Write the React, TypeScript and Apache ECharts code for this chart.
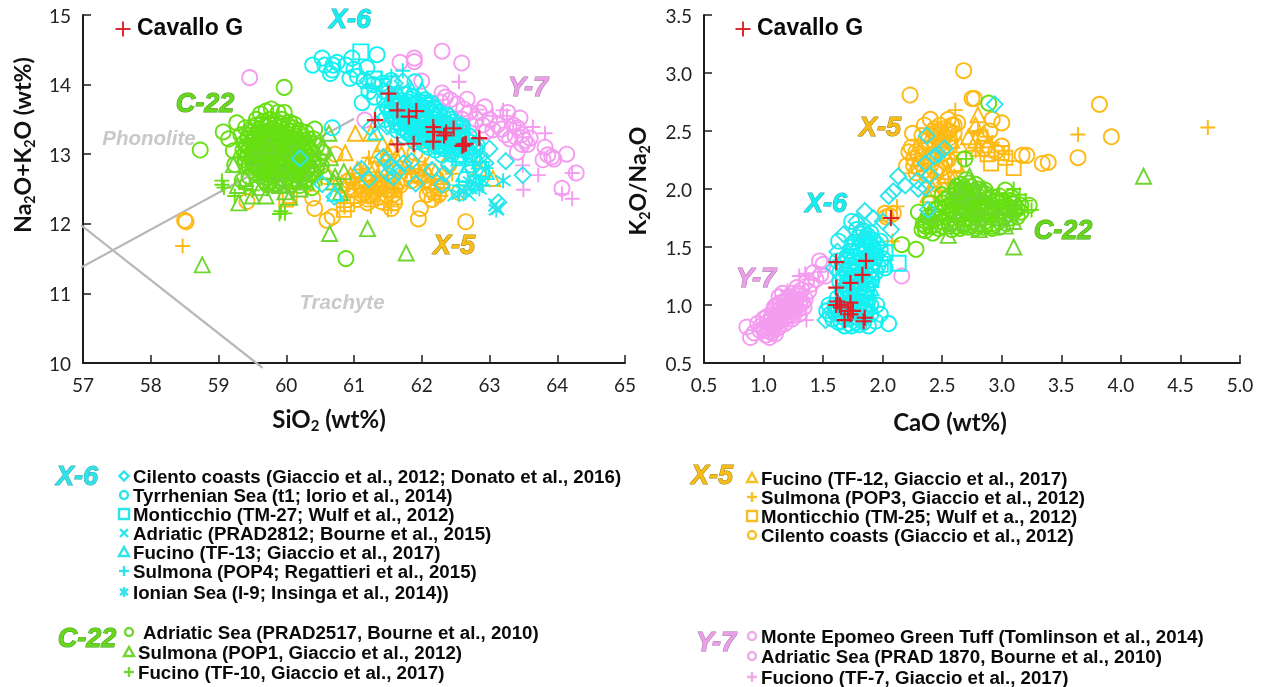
import React, { useEffect, useRef } from "react";
import * as echarts from "echarts";

type P = number[][];

// ---------- Left panel: SiO2 vs Na2O+K2O ----------
const L_CAVALLO: P = [[61.31,13.49],[61.51,13.87],[61.64,13.63],[61.81,13.54],[61.92,13.62],[61.64,13.14],[61.88,13.15],[62.17,13.39],[62.17,13.18],[62.18,13.32],[62.33,13.27],[62.36,13.31],[62.47,13.37],[62.62,13.14],[62.65,13.15],[62.6,13.12],[62.85,13.23]];
const L_Y7_CIRCLE: P = [[59.46,14.1],[62.3,14.48],[62.59,14.31],[61.68,14.32],[61.89,14.38],[61.89,14.33],[62.0,14.05],[61.16,13.49],[62.67,13.79],[62.93,13.68],[62.3,13.88],[62.35,13.82],[62.42,13.78],[62.28,13.75],[62.52,13.72],[62.7,13.6],[62.8,13.5],[62.9,13.42],[63.05,13.35],[63.27,13.6],[63.45,13.52],[63.23,13.28],[63.41,13.38],[63.41,13.03],[63.52,13.2],[63.6,13.23],[63.82,13.1],[63.79,12.92],[63.92,12.96],[63.95,12.93],[64.14,13.0],[64.28,12.73],[64.07,12.51],[63.12,13.42],[63.18,13.36],[63.35,13.42],[63.3,13.22],[63.48,13.14],[63.56,13.14],[62.95,13.32],[63.86,12.99],[61.93,13.72],[62.6,13.5],[62.72,13.42],[62.85,13.6],[62.62,13.65],[63.0,13.5],[63.38,13.25],[63.48,13.28]];
const L_Y7_PLUS: P = [[62.55,14.04],[63.2,13.63],[63.26,13.55],[63.64,13.39],[63.82,13.3],[63.49,12.84],[63.72,12.7],[63.5,12.49],[64.22,12.73],[64.07,12.43],[64.22,12.36],[63.05,13.55],[62.82,13.64],[63.4,13.35],[63.35,13.46]];
const L_X5_CIRCLE: P = [[58.5,12.05],[58.52,12.03],[59.42,12.32],[60.42,12.22],[60.6,12.05],[60.68,12.1],[60.39,12.37],[61.05,12.35],[61.2,12.3],[61.3,12.45],[61.4,12.32],[61.55,12.22],[61.6,12.3],[61.98,12.22],[61.95,12.07],[62.65,12.03],[62.15,12.35],[62.25,12.42],[62.12,12.5],[62.3,12.55],[62.55,12.45],[61.15,12.45],[61.5,12.5],[61.75,12.65],[60.8,12.55],[61.0,12.5],[60.72,13.0],[60.58,12.68],[61.9,13.02],[62.0,13.0],[62.4,12.85],[61.1,12.55],[61.25,12.52],[61.38,12.5],[61.48,12.42],[61.22,12.4],[61.35,12.38],[61.58,12.42],[61.12,12.42],[62.18,12.45],[62.22,12.52],[62.08,12.42],[61.85,12.62],[61.95,12.68],[62.05,12.62],[61.8,12.72],[61.68,12.55],[61.05,12.62],[60.92,12.62]];
const L_X5_TRIANGLE: P = [[61.02,13.3],[61.25,13.3],[60.87,13.02],[61.42,13.15],[61.55,13.1],[61.7,13.0],[61.2,12.85],[61.3,12.8],[61.45,12.95],[61.9,12.85],[62.05,12.8],[62.2,12.75],[63.05,12.65],[62.85,12.8],[60.95,12.7],[61.1,12.6],[61.28,12.55],[61.42,12.6],[61.62,12.62],[61.85,12.72],[62.12,12.6],[62.3,12.62],[61.98,12.7],[60.82,12.58],[60.96,12.5],[61.35,12.65],[61.5,12.55],[61.55,12.75],[61.4,12.78],[61.75,12.82],[62.1,12.72],[62.25,12.68],[61.18,12.72],[61.05,12.78],[61.34,13.0],[61.5,13.02],[61.62,12.95]];
const L_X5_PLUS: P = [[58.47,11.68],[60.86,12.24],[61.25,12.25],[61.5,12.2],[61.55,12.25],[62.2,12.35],[62.28,12.4],[61.0,12.55],[61.22,12.95],[61.1,12.78],[61.62,12.5],[61.78,12.75],[62.05,12.85],[62.45,12.72],[60.85,12.3],[61.2,12.5],[61.32,12.62],[61.45,12.48],[61.08,12.66],[61.95,12.78]];
const L_X5_SQUARE: P = [[60.85,12.2],[60.9,12.28],[61.28,12.42],[61.45,12.38],[61.55,12.48],[61.6,12.38],[60.0,12.35],[60.05,12.4],[62.1,12.6],[61.0,12.4],[61.35,12.55],[61.5,12.6]];
const L_C22_CIRCLE: P = [[59.97,13.96],[58.73,13.06],[60.88,11.5],[59.07,13.32],[59.15,13.22],[59.27,13.45],[59.33,13.28],[59.22,13.05],[59.24,12.85],[59.4,13.38],[59.62,13.58],[59.7,13.62],[59.78,13.65],[59.88,13.6],[59.97,13.6],[59.56,13.5],[59.66,13.47],[59.76,13.5],[59.84,13.48],[59.94,13.5],[60.05,13.46],[59.5,13.38],[59.6,13.36],[59.7,13.39],[59.8,13.37],[59.9,13.38],[60.0,13.36],[60.1,13.38],[60.2,13.34],[60.42,13.36],[59.44,13.27],[59.54,13.26],[59.64,13.29],[59.74,13.27],[59.84,13.28],[59.94,13.26],[60.04,13.28],[60.14,13.26],[60.24,13.25],[60.4,13.22],[59.38,13.16],[59.48,13.18],[59.58,13.17],[59.68,13.18],[59.78,13.16],[59.88,13.18],[59.98,13.16],[60.08,13.17],[60.18,13.15],[60.28,13.16],[60.45,13.12],[59.36,13.06],[59.46,13.08],[59.56,13.06],[59.66,13.08],[59.76,13.06],[59.86,13.08],[59.96,13.06],[60.06,13.07],[60.16,13.05],[60.26,13.07],[60.36,13.05],[60.55,13.02],[59.34,12.96],[59.44,12.98],[59.54,12.96],[59.64,12.98],[59.74,12.96],[59.84,12.98],[59.94,12.96],[60.04,12.97],[60.14,12.95],[60.24,12.97],[60.34,12.95],[60.48,12.92],[59.4,12.87],[59.5,12.88],[59.6,12.86],[59.7,12.88],[59.8,12.86],[59.9,12.88],[60.0,12.86],[60.1,12.87],[60.2,12.85],[60.3,12.87],[60.4,12.85],[60.52,12.83],[59.5,12.77],[59.6,12.78],[59.7,12.76],[59.8,12.78],[59.9,12.76],[60.0,12.77],[60.1,12.75],[60.2,12.77],[60.3,12.76],[60.4,12.74],[59.62,12.68],[59.72,12.66],[59.82,12.68],[59.92,12.66],[60.02,12.67],[60.12,12.65],[60.22,12.67],[60.32,12.65],[59.72,12.56],[59.84,12.58],[59.96,12.56],[60.08,12.57],[60.2,12.55],[60.38,12.52],[59.45,12.68],[59.35,12.62],[60.0,13.18],[60.12,13.08],[59.72,13.1],[59.82,13.02],[59.92,13.12],[59.62,13.02],[59.78,12.92],[59.92,12.82],[60.06,13.0],[60.18,12.9],[59.6,12.92],[59.7,12.82]];
const L_C22_CORE: P = [[59.55,13.42],[59.64,13.43],[59.73,13.44],[59.83,13.42],[59.92,13.44],[60.02,13.42],[60.12,13.43],[59.49,13.32],[59.59,13.31],[59.69,13.33],[59.79,13.31],[59.89,13.33],[59.99,13.31],[60.09,13.33],[60.19,13.3],[60.29,13.31],[59.43,13.22],[59.53,13.21],[59.63,13.23],[59.73,13.22],[59.83,13.23],[59.93,13.21],[60.03,13.22],[60.13,13.21],[60.23,13.2],[60.33,13.22],[59.42,13.12],[59.52,13.13],[59.62,13.12],[59.72,13.14],[59.82,13.12],[59.92,13.14],[60.02,13.12],[60.12,13.13],[60.22,13.11],[60.32,13.12],[59.4,13.02],[59.5,13.03],[59.6,13.04],[59.7,13.02],[59.8,13.04],[59.9,13.02],[60.0,13.03],[60.1,13.01],[60.2,13.02],[60.3,13.01],[60.4,13.0],[59.39,12.92],[59.49,12.93],[59.59,12.92],[59.69,12.94],[59.79,12.92],[59.89,12.94],[59.99,12.92],[60.09,12.93],[60.19,12.92],[60.29,12.92],[60.39,12.91],[59.45,12.83],[59.55,12.82],[59.65,12.83],[59.75,12.82],[59.85,12.84],[59.95,12.82],[60.05,12.83],[60.15,12.81],[60.25,12.82],[60.35,12.81],[60.45,12.8],[59.55,12.72],[59.65,12.73],[59.75,12.72],[59.85,12.74],[59.95,12.72],[60.05,12.73],[60.15,12.71],[60.25,12.72],[60.35,12.71],[59.68,12.62],[59.78,12.62],[59.88,12.62],[59.98,12.63],[60.08,12.62],[60.18,12.61],[60.28,12.62]];
const L_C22_TRIANGLE: P = [[58.76,11.41],[59.3,12.3],[60.64,11.86],[61.2,11.93],[61.77,11.58],[60.63,13.3],[59.22,12.85],[59.28,12.55],[59.5,12.4],[59.7,12.4],[59.82,12.58],[60.05,12.38],[60.2,12.5],[59.4,12.65],[59.62,12.52],[60.55,13.1],[60.65,12.95],[60.72,12.68],[60.8,12.45],[60.85,12.75],[60.7,12.6],[60.42,12.8],[60.3,12.6],[59.95,12.75],[59.55,12.95],[59.75,13.12],[60.1,13.05],[59.9,12.55],[60.58,12.75],[59.98,12.46]];
const L_C22_PLUS: P = [[59.05,12.62],[59.08,12.52],[59.05,12.56],[59.24,12.4],[59.5,12.48],[59.9,12.14],[59.98,12.15],[59.92,12.18],[59.72,12.5],[60.15,12.62],[60.3,12.52],[60.52,12.65],[59.4,12.5],[59.85,12.68],[60.05,12.85],[59.7,12.9],[60.25,12.95]];
const L_X6_CIRCLE: P = [[60.39,14.28],[60.53,14.38],[60.57,14.28],[60.68,14.21],[60.69,14.28],[60.75,14.32],[60.97,14.38],[61.34,14.43],[61.19,14.24],[60.94,14.09],[61.12,13.74],[61.9,14.04],[60.68,13.38],[60.65,14.16],[60.88,14.28],[61.0,14.22],[61.05,14.12],[61.15,14.06],[61.28,14.0],[61.42,14.02],[61.55,14.06],[61.22,13.9],[61.3,13.82],[61.45,13.9],
[61.5,13.88],[61.62,13.84],[61.75,13.86],[61.88,13.82],[61.45,13.78],[61.58,13.8],[61.7,13.77],[61.83,13.79],[61.96,13.76],[62.05,13.78],[61.48,13.7],[61.6,13.72],[61.74,13.69],[61.86,13.71],[61.98,13.68],[62.1,13.7],[62.18,13.67],[61.55,13.62],[61.66,13.64],[61.78,13.61],[61.9,13.63],[62.02,13.6],[62.14,13.62],[62.26,13.6],[61.6,13.54],[61.72,13.56],[61.84,13.53],[61.95,13.55],[62.08,13.52],[62.2,13.54],[62.32,13.52],[61.62,13.46],[61.76,13.48],[61.88,13.45],[62.0,13.47],[62.12,13.44],[62.24,13.46],[62.36,13.44],[62.46,13.46],[61.7,13.38],[61.82,13.4],[61.94,13.37],[62.06,13.39],[62.18,13.36],[62.3,13.38],[62.42,13.36],[62.54,13.38],[61.8,13.3],[61.92,13.32],[62.04,13.29],[62.16,13.31],[62.28,13.28],[62.4,13.3],[62.52,13.28],[61.94,13.22],[62.06,13.24],[62.18,13.21],[62.3,13.23],[62.42,13.2],[62.54,13.22],[62.66,13.2],[62.04,13.14],[62.16,13.16],[62.28,13.13],[62.4,13.15],[62.52,13.12],[62.64,13.14],[62.76,13.12],[62.2,13.06],[62.32,13.08],[62.44,13.05],[62.56,13.07],[62.68,13.05],[62.8,13.07],[62.3,12.99],[62.44,13.0],[62.58,12.98],[62.7,13.0]];
const L_X6_CORE: P = [[61.56,13.76],[61.68,13.73],[61.8,13.75],[61.92,13.73],[62.04,13.74],[62.14,13.73],[61.5,13.66],[61.62,13.68],[61.72,13.66],[61.84,13.67],[61.96,13.65],[62.08,13.66],[62.2,13.65],[61.42,13.6],[61.54,13.58],[61.66,13.6],[61.78,13.57],[61.9,13.59],[62.02,13.56],[62.14,13.58],[62.26,13.56],[62.38,13.56],[61.46,13.5],[61.58,13.52],[61.7,13.5],[61.82,13.5],[61.94,13.51],[62.06,13.48],[62.18,13.5],[62.3,13.48],[62.42,13.5],[61.56,13.42],[61.68,13.44],[61.8,13.43],[61.92,13.42],[62.04,13.43],[62.16,13.41],[62.28,13.42],[62.4,13.4],[62.5,13.42],[62.6,13.4],[61.64,13.34],[61.76,13.35],[61.88,13.34],[62.0,13.34],[62.12,13.33],[62.24,13.34],[62.36,13.33],[62.48,13.34],[62.6,13.32],[61.74,13.26],[61.86,13.27],[61.98,13.26],[62.1,13.27],[62.22,13.25],[62.34,13.26],[62.46,13.24],[62.58,13.26],[62.7,13.26],[61.9,13.18],[62.0,13.19],[62.12,13.2],[62.24,13.18],[62.36,13.18],[62.48,13.17],[62.6,13.18],[62.72,13.17],[62.1,13.1],[62.22,13.11],[62.34,13.12],[62.46,13.1],[62.58,13.11],[62.7,13.1],[62.82,13.12]];
const L_X6_DIAMOND: P = [[63.24,12.9],[63.49,12.7],[63.13,12.31],[60.2,12.94],[60.53,12.57],[60.71,12.39],[61.11,12.79],[61.22,12.64],[61.43,12.96],[61.55,12.82],[61.58,12.67],[61.73,12.87],[61.91,12.58],[62.15,12.77],[62.33,12.72],[62.3,12.56],[62.58,13.42],[61.49,13.4],[61.24,13.38],[63.0,13.08],[62.94,12.87],[61.48,12.9],[61.65,12.75],[61.5,12.72],[61.85,12.9],[62.85,12.95],[62.75,12.8],[62.4,12.85],[61.2,14.05],[61.6,14.02],[61.72,14.05],[62.42,13.55]];
const L_X6_SQUARE: P = [[61.1,14.47],[62.75,12.95],[62.88,12.78],[62.55,13.0],[61.3,14.08]];
const L_X6_TRIANGLE: P = [[61.32,13.32],[62.62,12.72],[62.8,12.6],[62.95,12.75],[62.7,12.85],[62.85,12.9],[61.65,13.9],[61.85,13.92],[62.0,13.92],[60.72,12.44],[62.55,12.95]];
const L_X6_PLUS: P = [[61.72,14.2],[61.55,14.12],[61.4,14.08],[61.2,13.95],[62.55,12.55],[62.68,12.6],[62.8,12.68],[62.9,12.55],[62.95,12.8]];
const L_X6_CROSS: P = [[62.48,12.42],[62.6,12.48],[62.7,12.42],[62.72,12.52],[62.8,12.55],[63.12,12.22],[63.08,12.27],[62.92,12.62]];
const L_X6_STAR: P = [[63.2,12.62],[62.55,12.42],[62.62,12.46],[62.72,12.6],[63.1,12.2],[62.85,12.5]];

// ---------- Right panel: CaO vs K2O/Na2O ----------
const R_CAVALLO: P = [[1.61,1.37],[1.86,1.38],[1.83,1.26],[1.73,1.19],[1.61,1.15],[2.07,1.75],[1.61,1.0],[1.64,1.0],[1.62,1.03],[1.73,1.02],[1.71,0.95],[1.75,0.95],[1.73,0.92],[1.68,0.87],[1.85,0.89],[1.84,0.86],[1.65,0.98]];
const R_Y7_CIRCLE: P = [[0.86,0.81],[0.89,0.72],[0.95,0.84],[0.97,0.78],[1.02,0.74],[1.05,0.72],[1.07,0.76],[1.0,0.8],[1.03,0.85],[1.08,0.82],[1.12,0.8],[1.06,0.88],[1.1,0.9],[1.14,0.86],[1.18,0.84],[1.12,0.95],[1.16,0.93],[1.2,0.9],[1.24,0.88],[1.14,1.02],[1.18,0.99],[1.22,0.96],[1.26,0.94],[1.3,0.92],[1.13,1.07],[1.2,1.05],[1.25,1.02],[1.3,1.0],[1.34,0.98],[1.24,1.1],[1.3,1.08],[1.32,1.13],[1.38,1.12],[1.4,1.18],[1.36,1.2],[1.44,1.22],[1.48,1.26],[1.42,1.28],[1.47,1.38],[1.5,1.35],[1.52,1.25],[2.16,1.25],[1.0,0.88],[1.08,0.95],[0.92,0.76],[1.1,0.75],[1.16,1.1],[1.35,1.05],[1.28,1.15]];
const R_Y7_CORE: P = [[1.01,0.78],[1.04,0.81],[1.06,0.83],[1.09,0.86],[1.11,0.84],[1.13,0.89],[1.15,0.91],[1.17,0.88],[1.19,0.94],[1.21,0.92],[1.23,0.98],[1.25,0.91],[1.27,1.0],[1.29,0.96],[1.31,1.04],[1.15,0.97],[1.17,1.03],[1.19,1.0],[1.21,1.07],[1.23,1.03],[1.25,1.06],[1.27,1.04],[1.29,1.1],[1.33,1.02],[1.1,0.99],[1.12,0.92],[1.07,0.91],[1.03,0.9],[1.14,0.82],[1.08,0.79],[1.05,0.77],[0.98,0.82],[1.12,1.0],[1.09,0.98],[1.18,0.96],[1.26,0.97]];
const R_Y7_PLUS: P = [[1.36,0.87],[1.3,1.25],[1.35,1.27],[1.38,1.22],[1.2,1.12],[1.12,0.94],[1.08,0.78]];
const R_X5_CIRCLE: P = [[2.68,3.02],[2.23,2.81],[3.82,2.73],[3.92,2.45],[3.64,2.27],[3.34,2.22],[3.39,2.23],[3.17,2.29],[3.21,2.29],[2.75,2.78],[2.77,2.78],[3.0,2.57],[2.92,2.6],[3.0,2.37],[2.63,2.57],[2.02,1.79],[2.09,1.79],[2.4,2.6],[2.25,2.48],[2.33,2.46],[2.48,2.55],[2.55,2.6],[2.58,2.55],[2.52,2.45],[2.6,2.48],[2.42,2.42],[2.48,2.38],[2.22,2.32],[2.26,2.26],[2.3,2.3],[2.36,2.35],[2.42,2.3],[2.5,2.3],[2.56,2.36],[2.24,2.36],[2.32,2.22],[2.4,2.2],[2.46,2.18],[2.2,2.2],[2.28,2.14],[2.37,2.12],[2.55,2.25],[2.44,2.52],[2.35,2.55],[2.9,2.5],[2.82,2.45],[2.95,2.32],[2.85,2.35],[2.03,1.76],[2.06,1.77],[2.55,2.5],[2.5,2.42],[2.44,2.48],[2.38,2.28],[2.46,2.45],[2.52,2.52],[2.56,2.44],[2.5,2.35],[2.44,2.38],[2.38,2.42],[2.32,2.36],[2.28,2.32],[2.34,2.28],[2.4,2.25],[2.46,2.28],[2.52,2.24],[2.44,2.15],[2.5,2.18],[2.35,2.16],[2.3,2.18],[2.26,2.2],[2.48,2.48],[2.42,2.5],[2.56,2.5],[2.6,2.55]];
const R_X5_TRIANGLE: P = [[2.8,2.64],[2.78,2.55],[2.72,2.45],[2.85,2.48],[2.58,2.42],[2.65,2.38],[2.78,2.42],[2.42,2.0],[2.55,2.15],[2.62,2.22],[2.5,2.05],[2.6,2.1],[2.88,2.38],[2.38,1.95],[2.44,2.08],[2.52,2.12],[2.8,2.35]];
const R_X5_PLUS: P = [[4.73,2.53],[3.64,2.47],[2.61,2.68],[2.8,2.5],[2.92,2.4],[2.55,2.05],[2.6,2.0],[2.08,1.55],[2.78,2.33],[2.48,1.98],[2.12,1.85],[2.88,2.45],[3.02,2.3]];
const R_X5_SQUARE: P = [[2.91,2.22],[3.1,2.18],[3.03,2.27],[3.0,2.31],[2.88,2.3],[2.6,2.2]];
const R_C22_CIRCLE: P = [[2.89,2.74],[2.69,2.26],[2.16,1.52],[2.28,1.48],[3.23,1.86],[2.33,1.65],[2.36,1.72],[2.4,1.68],[2.47,1.66],[2.38,1.76],[2.44,1.74],[2.5,1.72],[2.56,1.7],[2.62,1.72],[2.68,1.7],[2.74,1.72],[2.8,1.7],[2.86,1.72],[2.92,1.7],[2.98,1.72],[3.04,1.7],[2.44,1.82],[2.5,1.8],[2.56,1.78],[2.62,1.8],[2.68,1.78],[2.74,1.8],[2.8,1.78],[2.86,1.8],[2.92,1.78],[2.98,1.8],[3.04,1.78],[3.1,1.8],[3.16,1.8],[2.5,1.88],[2.56,1.86],[2.62,1.88],[2.68,1.86],[2.74,1.88],[2.8,1.86],[2.86,1.88],[2.92,1.86],[2.98,1.88],[3.04,1.86],[3.1,1.87],[3.16,1.86],[2.56,1.94],[2.62,1.96],[2.68,1.94],[2.74,1.96],[2.8,1.94],[2.86,1.96],[2.92,1.93],[2.98,1.94],[3.03,1.99],[3.08,1.93],[2.62,2.02],[2.68,2.0],[2.74,2.02],[2.8,2.0],[2.5,1.95],[2.4,1.88],[2.3,1.8],[2.36,1.64],[2.42,1.62],[2.58,1.65],[2.65,1.66],[2.72,1.67],[2.78,1.66],[2.85,1.67],[2.92,1.66],[2.98,1.67],[2.7,1.84],[2.76,1.84],[2.82,1.83],[2.66,1.92],[2.72,1.92],[2.78,1.91]];
const R_C22_CORE: P = [[2.47,1.76],[2.53,1.76],[2.59,1.75],[2.65,1.76],[2.71,1.75],[2.77,1.76],[2.83,1.75],[2.89,1.76],[2.95,1.75],[3.01,1.76],[3.07,1.75],[3.13,1.76],[2.47,1.84],[2.53,1.84],[2.59,1.83],[2.65,1.84],[2.71,1.82],[2.77,1.82],[2.83,1.82],[2.89,1.84],[2.95,1.83],[3.01,1.84],[3.07,1.83],[3.13,1.83],[2.53,1.91],[2.59,1.91],[2.65,1.9],[2.71,1.9],[2.77,1.89],[2.83,1.9],[2.89,1.91],[2.95,1.9],[3.01,1.9],[3.07,1.9],[2.61,1.99],[2.66,1.98],[2.71,1.98],[2.76,1.98],[2.81,1.97],[2.86,1.99],[2.5,1.68],[2.56,1.68],[2.62,1.68],[2.68,1.68],[2.74,1.69],[2.8,1.68],[2.86,1.69],[2.92,1.68],[2.44,1.69],[2.4,1.72],[2.34,1.7],[2.36,1.68],[2.42,1.78],[2.66,2.04],[2.72,2.05],[2.78,2.04],[2.7,2.08]];
const R_C22_TRIANGLE: P = [[4.19,2.11],[3.1,1.5],[2.55,1.6],[2.81,1.65],[3.03,1.68],[2.73,2.11],[2.6,2.02],[2.85,2.0],[2.4,1.78],[2.6,1.72],[2.8,1.75],[3.0,1.75],[3.1,1.72],[2.7,1.85],[2.9,1.85],[3.12,1.85],[2.65,1.95],[2.78,1.98]];
const R_C22_PLUS: P = [[3.1,2.0],[3.15,1.95],[3.2,1.9],[3.25,1.82],[3.05,1.9],[2.9,1.92],[2.75,1.8],[2.6,1.85],[3.12,1.78],[2.7,2.26],[2.98,1.95]];
const R_X6_CIRCLE: P = [[2.05,0.84],[1.74,1.72],[1.9,1.25],[1.55,1.0],[1.53,0.95],[1.58,0.88],[1.63,0.85],[1.68,0.82],[1.74,0.82],[1.8,0.83],[1.88,0.82],[1.94,0.86],[1.98,0.92],[1.95,1.0],[1.6,0.93],[1.66,0.9],[1.72,0.88],[1.78,0.9],[1.84,0.9],[1.9,0.92],[1.6,1.0],[1.66,0.98],[1.72,0.96],[1.78,0.98],[1.84,0.97],[1.9,1.0],[1.62,1.06],[1.7,1.05],[1.76,1.04],[1.82,1.06],[1.88,1.05],[1.66,1.12],[1.72,1.11],[1.78,1.12],[1.84,1.12],[1.64,1.2],[1.7,1.18],[1.76,1.2],[1.82,1.19],[1.88,1.18],[1.64,1.28],[1.7,1.26],[1.76,1.28],[1.82,1.27],[1.88,1.26],[1.94,1.28],[1.66,1.35],[1.72,1.34],[1.78,1.36],[1.84,1.35],[1.9,1.34],[1.96,1.34],[2.02,1.32],[1.7,1.42],[1.76,1.42],[1.82,1.44],[1.88,1.42],[1.94,1.41],[2.0,1.4],[1.62,1.38],[1.74,1.5],[1.8,1.5],[1.86,1.5],[1.92,1.49],[1.98,1.48],[1.8,1.58],[1.86,1.57],[1.92,1.56],[1.98,1.55],[1.78,1.65],[1.84,1.64],[1.9,1.62],[1.63,1.55]];
const R_X6_CORE: P = [[1.69,0.93],[1.75,0.93],[1.81,0.94],[1.87,0.95],[1.63,0.96],[1.69,1.01],[1.75,1.01],[1.81,1.02],[1.87,1.01],[1.73,1.08],[1.79,1.08],[1.85,1.09],[1.69,1.09],[1.69,1.15],[1.75,1.16],[1.81,1.15],[1.87,1.14],[1.67,1.23],[1.73,1.23],[1.79,1.24],[1.85,1.23],[1.91,1.22],[1.67,1.31],[1.73,1.31],[1.79,1.31],[1.85,1.31],[1.91,1.3],[1.69,1.38],[1.75,1.38],[1.81,1.39],[1.87,1.38],[1.93,1.37],[1.73,1.46],[1.79,1.46],[1.85,1.46],[1.91,1.45],[1.77,1.54],[1.83,1.53],[1.89,1.53],[1.95,1.52],[1.81,1.61],[1.87,1.6],[1.6,0.97],[1.56,0.92],[1.65,0.86],[1.72,0.84],[1.78,0.85],[1.84,0.85]];
const R_X6_DIAMOND: P = [[2.94,2.73],[2.37,2.46],[2.52,2.35],[2.43,2.28],[2.47,2.3],[2.36,2.22],[2.13,2.11],[2.19,2.03],[2.05,1.94],[2.09,1.98],[2.29,2.07],[2.36,2.01],[2.38,1.82],[1.85,1.81],[1.67,1.61],[2.07,1.65],[1.92,1.75],[1.59,1.32],[1.52,0.87],[2.3,2.0],[2.4,2.12],[2.0,1.72],[1.78,1.72],[1.82,1.65],[1.62,1.46]];
const R_X6_SQUARE: P = [[2.13,1.36],[1.98,1.35],[1.9,1.22],[1.86,1.12],[1.85,1.06],[1.92,1.42],[2.02,1.45]];
const R_X6_TRIANGLE: P = [[1.9,1.15],[1.85,1.3],[1.95,1.5],[1.78,0.98]];
const R_X6_PLUS: P = [[1.8,1.52],[1.9,1.58],[1.7,1.45],[1.75,1.1]];

const CYAN = "#14f0f2";
const CYAN2 = "#2ee4ea";
const GREEN = "#67df12";
const GREEN2 = "#6fd531";
const ORANGE = "#fdb915";
const PINK = "#f49cf0";
const RED = "#dd1f2a";

const PLUS = "path://M0 5H10M5 0V10";
const CROSS = "path://M0 0L10 10M10 0L0 10";
const STAR = "path://M0 1.5L10 8.5M10 1.5L0 8.5M5 0V10";

const LEFT_SERIES: [string, P, string, string, number][] = [
  ["Y-7 circle", L_Y7_CIRCLE, "circle", PINK, 15],
  ["Y-7 plus", L_Y7_PLUS, PLUS, PINK, 15],
  ["X-5 circle", L_X5_CIRCLE, "circle", ORANGE, 15],
  ["X-5 triangle", L_X5_TRIANGLE, "triangle", ORANGE, 15],
  ["X-5 plus", L_X5_PLUS, PLUS, ORANGE, 15],
  ["X-5 square", L_X5_SQUARE, "rect", ORANGE, 14],
  ["C-22 circle", L_C22_CIRCLE, "circle", GREEN, 15],
  ["C-22 core", L_C22_CORE, "circle", GREEN, 15],
  ["C-22 triangle", L_C22_TRIANGLE, "triangle", GREEN2, 15],
  ["C-22 plus", L_C22_PLUS, PLUS, GREEN, 15],
  ["X-6 circle", L_X6_CIRCLE, "circle", CYAN, 15],
  ["X-6 core", L_X6_CORE, "circle", CYAN, 15],
  ["X-6 square", L_X6_SQUARE, "rect", CYAN, 15],
  ["X-6 triangle", L_X6_TRIANGLE, "triangle", CYAN, 15],
  ["X-6 plus", L_X6_PLUS, PLUS, CYAN, 15],
  ["X-6 cross", L_X6_CROSS, CROSS, CYAN, 13],
  ["X-6 star", L_X6_STAR, STAR, CYAN2, 15],
  ["X-6 diamond", L_X6_DIAMOND, "diamond", CYAN2, 16],
  ["Cavallo G", L_CAVALLO, PLUS, RED, 16],
];
const RIGHT_SERIES: [string, P, string, string, number][] = [
  ["X-5 circle", R_X5_CIRCLE, "circle", ORANGE, 15],
  ["X-5 triangle", R_X5_TRIANGLE, "triangle", ORANGE, 15],
  ["X-5 plus", R_X5_PLUS, PLUS, ORANGE, 15],
  ["X-5 square", R_X5_SQUARE, "rect", ORANGE, 14],
  ["Y-7 circle", R_Y7_CIRCLE, "circle", PINK, 15],
  ["Y-7 core", R_Y7_CORE, "circle", PINK, 15],
  ["Y-7 plus", R_Y7_PLUS, PLUS, PINK, 15],
  ["C-22 circle", R_C22_CIRCLE, "circle", GREEN, 15],
  ["C-22 core", R_C22_CORE, "circle", GREEN, 15],
  ["C-22 triangle", R_C22_TRIANGLE, "triangle", GREEN2, 15],
  ["C-22 plus", R_C22_PLUS, PLUS, GREEN, 15],
  ["X-6 circle", R_X6_CIRCLE, "circle", CYAN, 15],
  ["X-6 core", R_X6_CORE, "circle", CYAN, 15],
  ["X-6 square", R_X6_SQUARE, "rect", CYAN, 15],
  ["X-6 triangle", R_X6_TRIANGLE, "triangle", CYAN, 15],
  ["X-6 plus", R_X6_PLUS, PLUS, CYAN, 15],
  ["X-6 diamond", R_X6_DIAMOND, "diamond", CYAN2, 16],
  ["Cavallo G", R_CAVALLO, PLUS, RED, 16],
];

const TAS_UPPER: P = [[56.95, 11.36], [61.0, 13.51]];
const TAS_LOWER: P = [[56.97, 11.98], [59.65, 9.93]];

const X6_LEGEND = ["Cilento coasts (Giaccio et al., 2012; Donato et al., 2016)", "Tyrrhenian Sea (t1; Iorio et al., 2014)", "Monticchio (TM-27; Wulf et al., 2012)", "Adriatic (PRAD2812; Bourne et al., 2015)", "Fucino (TF-13; Giaccio et al., 2017)", "Sulmona (POP4; Regattieri et al., 2015)", "Ionian Sea (I-9; Insinga et al., 2014))"];
const C22_LEGEND = ["Adriatic Sea (PRAD2517, Bourne et al., 2010)", "Sulmona (POP1, Giaccio et al., 2012)", "Fucino (TF-10, Giaccio et al., 2017)"];
const X5_LEGEND = ["Fucino (TF-12, Giaccio et al., 2017)", "Sulmona (POP3, Giaccio et al., 2012)", "Monticchio (TM-25; Wulf et a., 2012)", "Cilento coasts (Giaccio et al., 2012)"];
const Y7_LEGEND = ["Monte Epomeo Green Tuff (Tomlinson et al., 2014)", "Adriatic Sea (PRAD 1870, Bourne et al., 2010)", "Fuciono (TF-7, Giaccio et al., 2017)"];

const TEXT_FONT = "Liberation Sans";
const TICK_FONT = "Lato";

function tag(text: string, x: number, y: number, fill: string, stroke: string, size = 27) {
  return { type: "text", x, y, z: 50, style: { text, fill, stroke, lineWidth: 1, font: `italic bold ${size}px "${TEXT_FONT}"`, textAlign: "center", textVerticalAlign: "middle" } };
}
function zone(text: string, x: number, y: number) {
  return { type: "text", x, y, z: 50, style: { text, fill: "#c9c9c9", font: `italic bold 20.5px "${TEXT_FONT}"`, textAlign: "center", textVerticalAlign: "middle" } };
}
function legendText(text: string, x: number, y: number) {
  return { type: "text", x, y, style: { text, fill: "#0a0a0a", font: `bold 18.7px "${TEXT_FONT}"`, textAlign: "left", textVerticalAlign: "middle" } };
}
function glyph(kind: string, x: number, y: number, color: string, arm = 5, width = 2.4): any[] {
  const shape = { fill: "none", stroke: color, lineWidth: width };
  const line = (a: number, b: number, c: number, d: number) => ({ type: "line", shape: { x1: x + a, y1: y + b, x2: x + c, y2: y + d }, style: { stroke: color, lineWidth: width } });
  if (kind === "circle") return [{ type: "circle", shape: { cx: x, cy: y, r: 4 }, style: shape }];
  if (kind === "rect") return [{ type: "rect", shape: { x: x - 5, y: y - 5, width: 10, height: 10 }, style: shape }];
  if (kind === "diamond") return [{ type: "polygon", shape: { points: [[x, y - 4.5], [x + 4.5, y], [x, y + 4.5], [x - 4.5, y]] }, style: shape }];
  if (kind === "triangle") return [{ type: "polygon", shape: { points: [[x, y - 5], [x + 5, y + 4], [x - 5, y + 4]] }, style: shape }];
  if (kind === "plus") return [line(-arm, 0, arm, 0), line(0, -arm, 0, arm)];
  if (kind === "cross") return [line(-4, -4, 4, 4), line(4, -4, -4, 4)];
  return [line(-4, -3, 4, 3), line(4, -3, -4, 3), line(0, -5, 0, 5)];
}
function title(parts: [string, boolean][], x: number, y: number, vertical: boolean, size: number) {
  const text = parts.map(([t, sub]) => (sub ? `{s|${t}}` : `{a|${t}}`)).join("");
  return {
    type: "text", x, y, rotation: vertical ? Math.PI / 2 : 0,
    style: {
      text, textAlign: "center", textVerticalAlign: "middle",
      rich: {
        a: { font: `bold ${size}px "${TICK_FONT}"`, fill: "#111", lineHeight: 28, verticalAlign: "middle" },
        s: { font: `bold ${size * 0.62}px "${TICK_FONT}"`, fill: "#111", lineHeight: 28, verticalAlign: "bottom", padding: [8, 0, 0, 0] },
      },
    },
  };
}

function axis(min: number, max: number, interval: number, decimals: number, isX: boolean, gridIndex: number) {
  return {
    type: "value", gridIndex, min, max, interval,
    splitLine: { show: false },
    axisLine: { onZero: false, lineStyle: { color: "#1c1c1c", width: 2 } },
    axisTick: { inside: true, length: 8, lineStyle: { color: "#1c1c1c", width: 1.5 } },
    axisLabel: {
      color: "#222", fontFamily: TICK_FONT, fontSize: 19, margin: 12,
      formatter: (v: number) => v.toFixed(decimals),
    },
  };
}

function toSeries(defs: [string, P, string, string, number][], axisIndex: number) {
  return defs.map(([name, data, symbol, color, size], i) => ({
    type: "scatter", name, xAxisIndex: axisIndex, yAxisIndex: axisIndex, data, symbol, symbolSize: size,
    clip: false, z: 10 + i, silent: true,
    itemStyle: { color: "rgba(0,0,0,0)", borderColor: color, borderWidth: name === "Cavallo G" ? 2.2 : 1.9, opacity: 1 },
  }));
}

export default function App() {
  const ref = useRef<HTMLDivElement>(null);
  useEffect(() => {
    document.body.style.margin = "0";
    document.body.style.background = "#fff";
    const chart = echarts.init(ref.current!, undefined, { renderer: "svg" });
    const graphic: any[] = [
      tag("X-6", 350, 19, CYAN, "#3b9ea3"),
      tag("C-22", 205, 103, "#67d61c", "#3f9a1a"),
      tag("Y-7", 528, 87, "#e9a0e6", "#a56fa8"),
      tag("X-5", 454, 245, "#f7bd14", "#9c7d1a"),
      zone("Phonolite", 149, 137),
      zone("Trachyte", 342, 301),
      tag("X-5", 880, 127, "#f7bd14", "#9c7d1a"),
      tag("X-6", 826, 203, CYAN, "#3b9ea3"),
      tag("Y-7", 756, 278, "#e9a0e6", "#a56fa8"),
      tag("C-22", 1063, 230, "#67d61c", "#3f9a1a"),
      ...glyph("plus", 123, 29, RED, 7.5, 1.9),
      { type: "text", x: 137, y: 27, style: { text: "Cavallo G", fill: "#0a0a0a", font: `bold 23px "${TEXT_FONT}"`, textVerticalAlign: "middle" } },
      ...glyph("plus", 743, 29, RED, 7.5, 1.9),
      { type: "text", x: 757, y: 27, style: { text: "Cavallo G", fill: "#0a0a0a", font: `bold 23px "${TEXT_FONT}"`, textVerticalAlign: "middle" } },
      title([["Na", false], ["2", true], ["O+K", false], ["2", true], ["O (wt%)", false]], 22, 145, true, 23),
      title([["SiO", false], ["2", true], [" (wt%)", false]], 329, 418, false, 24),
      title([["K", false], ["2", true], ["O/Na", false], ["2", true], ["O", false]], 637, 181, true, 23),
      title([["CaO (wt%)", false]], 950, 421, false, 24),
      tag("X-6", 77, 476, CYAN2, "#3b9ea3"),
      tag("C-22", 87, 638, "#67d61c", "#3f9a1a"),
      tag("X-5", 712, 475, "#f7bd14", "#9c7d1a"),
      tag("Y-7", 716, 642, "#e9a0e6", "#a56fa8"),
    ];
    const x6Y = [476, 495, 514, 533, 552, 571, 592];
    const x6Kinds = ["diamond", "circle", "rect", "cross", "triangle", "plus", "star"];
    X6_LEGEND.forEach((t, i) => {
      graphic.push(legendText(t, 133, x6Y[i]), ...glyph(x6Kinds[i], 124, x6Y[i], CYAN2));
    });
    const c22Y = [632, 652, 672];
    const c22X = [143, 138, 138];
    const c22Kinds = ["circle", "triangle", "plus"];
    C22_LEGEND.forEach((t, i) => {
      graphic.push(legendText(t, c22X[i], c22Y[i]), ...glyph(c22Kinds[i], 129, c22Y[i], GREEN2));
    });
    const x5Y = [478, 497, 516, 535];
    const x5Kinds = ["triangle", "plus", "rect", "circle"];
    X5_LEGEND.forEach((t, i) => {
      graphic.push(legendText(t, 761, x5Y[i]), ...glyph(x5Kinds[i], 752, x5Y[i], "#f5c024"));
    });
    const y7Y = [636, 656, 677];
    const y7Kinds = ["circle", "circle", "plus"];
    Y7_LEGEND.forEach((t, i) => {
      graphic.push(legendText(t, 761, y7Y[i]), ...glyph(y7Kinds[i], 752, y7Y[i], "#edabe9"));
    });

    chart.setOption({
      animation: false,
      backgroundColor: "#fff",
      grid: [
        { left: 83, top: 15, width: 542, height: 348 },
        { left: 704, top: 15, width: 536, height: 348 },
      ],
      xAxis: [axis(57, 65, 1, 0, true, 0), axis(0.5, 5, 0.5, 1, true, 1)],
      yAxis: [axis(10, 15, 1, 0, false, 0), axis(0.5, 3.5, 0.5, 1, false, 1)],
      graphic,
      series: [
        { type: "line", xAxisIndex: 0, yAxisIndex: 0, data: TAS_UPPER, symbol: "none", clip: false, z: 1, lineStyle: { color: "#b8b8b8", width: 2.2 } },
        { type: "line", xAxisIndex: 0, yAxisIndex: 0, data: TAS_LOWER, symbol: "none", clip: false, z: 1, lineStyle: { color: "#b8b8b8", width: 2.2 } },
        ...toSeries(LEFT_SERIES, 0),
        ...toSeries(RIGHT_SERIES, 1),
      ],
    });
    return () => chart.dispose();
  }, []);
  return <div ref={ref} style={{ position: "fixed", left: 0, top: 0, width: 1263, height: 687, background: "#fff", filter: "blur(0.4px)" }} />;
}
